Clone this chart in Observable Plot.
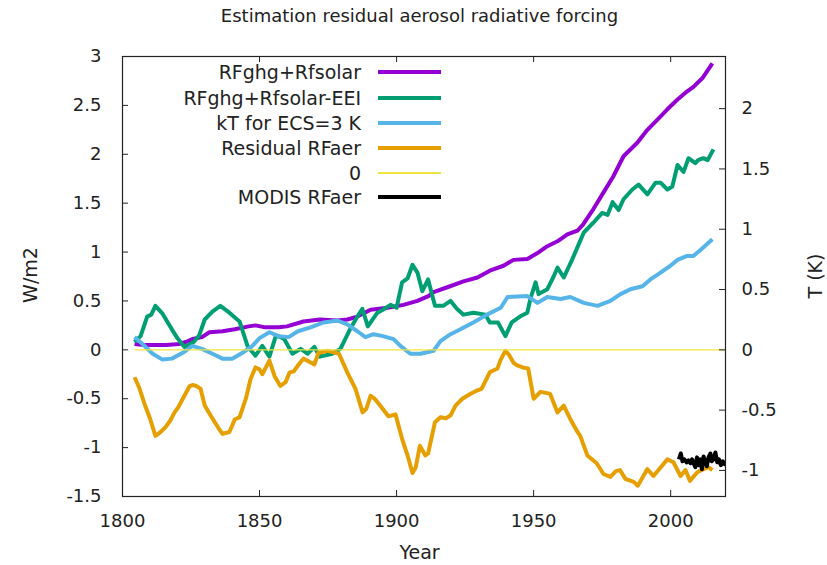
<!DOCTYPE html>
<html><head><meta charset="utf-8">
<script src="https://cdn.jsdelivr.net/npm/d3@7"></script>
<script src="https://cdn.jsdelivr.net/npm/@observablehq/plot@0.6"></script>
<style>
body{margin:0;background:#fff;font-family:"DejaVu Sans",sans-serif;color:#222;}
#wrap{position:relative;width:827px;height:565px;overflow:hidden;}
#wrap svg{position:absolute;left:0;top:0;}
.title{position:absolute;left:0;width:839px;top:5px;text-align:center;font-size:18px;}
.lab{position:absolute;font-size:19px;white-space:nowrap;}
.row{position:absolute;height:26px;}
.row .t{position:absolute;right:0;top:0;font-size:19px;line-height:26px;white-space:nowrap;}
.swatch{position:absolute;}
</style></head><body><div id="wrap"></div>
<script>
// ---------- data ----------
const rfYears  = [1804.4,1808,1812,1816,1820.8,1823,1825.5,1829,1831.7,1836.5,1841,1846,1848.5,1852,1857,1860,1866,1872,1878.4,1882,1885.7,1890.5,1896.7,1902.5,1907.6,1911.6,1913.5,1918.5,1924.4,1929.5,1934,1939,1942.6,1947.7,1951.4,1955,1958.7,1962.3,1966,1968,1971.8,1975.5,1979,1982.8,1987.9,1991.5,1995,1998.8,2002.5,2005.4,2008.3,2011.6,2015.2];
const rfValues = [0.06,0.05,0.05,0.05,0.06,0.08,0.11,0.13,0.18,0.19,0.21,0.24,0.25,0.23,0.23,0.24,0.29,0.31,0.30,0.31,0.34,0.41,0.43,0.46,0.50,0.55,0.59,0.64,0.70,0.74,0.81,0.86,0.92,0.93,0.99,1.06,1.11,1.18,1.22,1.28,1.44,1.61,1.77,1.98,2.12,2.25,2.35,2.46,2.56,2.63,2.69,2.78,2.93];

const eeiYears  = [1804.4,1806.6,1809,1810.5,1812,1814.6,1818,1820,1822.6,1826,1828,1830,1832.8,1835.7,1839,1841,1842.7,1845.6,1848.5,1851,1853.6,1855.8,1857,1859,1862,1865,1867.5,1870,1872,1876.5,1879.5,1883,1885.5,1887.5,1889.5,1893,1895,1897.8,1900,1902,1904,1905.8,1907.6,1909.4,1911.5,1914,1917,1919.7,1922,1924.4,1928,1932.4,1934,1937,1939.7,1942,1945,1947.7,1948.8,1950.7,1951.8,1955,1957.3,1958.7,1961,1964,1966,1968.3,1971.8,1975,1977,1978.8,1981,1982.8,1986,1988.3,1991.5,1994.5,1996.3,1998.8,2000.6,2002.5,2004.7,2006.5,2009,2010,2011.9,2013.5,2015.6];
const eeiValues = [0.08,0.14,0.34,0.36,0.45,0.37,0.21,0.12,0.03,0.08,0.15,0.31,0.39,0.45,0.38,0.33,0.29,0.04,-0.06,0.04,-0.07,0.13,0.14,0.11,-0.04,0.01,-0.04,0.03,-0.07,-0.04,0.01,0.21,0.33,0.42,0.24,0.38,0.41,0.46,0.43,0.69,0.73,0.87,0.79,0.60,0.72,0.45,0.45,0.50,0.42,0.36,0.38,0.36,0.28,0.28,0.14,0.28,0.34,0.38,0.52,0.69,0.57,0.62,0.75,0.84,0.74,0.92,1.05,1.20,1.30,1.40,1.38,1.51,1.43,1.54,1.64,1.69,1.59,1.71,1.71,1.64,1.67,1.89,1.82,1.96,1.91,1.94,1.96,1.94,2.05];

const ktYears  = [1804.4,1807.3,1811,1814.6,1818,1822,1825.5,1829,1832.8,1836.5,1840,1843.8,1847.4,1850,1853.6,1857,1860.6,1864,1868.6,1873.4,1878.4,1882,1885.7,1888.6,1891.6,1895,1898.9,1901.4,1905,1908.7,1913.5,1916,1919.7,1923.3,1928,1933,1938,1940.5,1947.7,1951.4,1955,1959.8,1963.4,1968.3,1973.3,1978,1981.7,1985.3,1989.7,1992.6,1996.3,1999.9,2002.5,2006,2008.3,2012,2015.2];
const ktValues = [0.13,0.06,-0.04,-0.10,-0.09,-0.03,0.04,0.01,-0.04,-0.09,-0.09,-0.03,0.04,0.12,0.18,0.14,0.13,0.19,0.23,0.28,0.30,0.26,0.19,0.13,0.16,0.14,0.11,0.04,-0.04,-0.04,-0.01,0.09,0.16,0.21,0.28,0.36,0.43,0.54,0.55,0.48,0.54,0.52,0.54,0.48,0.45,0.50,0.57,0.62,0.65,0.72,0.79,0.86,0.92,0.96,0.96,1.05,1.13];

const aerYears  = [1804.4,1806,1808,1810,1812,1813.5,1815.7,1817.5,1819,1820.5,1822,1824.5,1825.5,1827,1828.5,1830,1831.5,1833,1835,1836.5,1839,1841,1842.7,1845,1846.7,1848.5,1850,1851,1853.6,1855.5,1857.6,1859.5,1861,1862.5,1864,1866,1868,1870,1871.5,1875,1879,1882,1885,1887.6,1889,1890.5,1892,1894,1897,1899.6,1902,1904,1905.8,1907,1908.5,1910.5,1911.5,1914,1916,1918,1919.7,1921.5,1924,1927,1929,1931,1934,1936.8,1938,1939.7,1941,1942.6,1944,1946,1948,1950,1952.5,1954.5,1956,1958.7,1961,1963.4,1966,1967,1969.6,1973,1975.5,1978,1980,1981.5,1983.5,1986.5,1988,1991.5,1993.7,1997,1998.8,2001,2003.6,2005.4,2007,2009.8,2012,2013.8,2015.2];
const aerValues = [-0.28,-0.38,-0.55,-0.70,-0.88,-0.85,-0.79,-0.72,-0.64,-0.58,-0.50,-0.37,-0.36,-0.37,-0.40,-0.57,-0.64,-0.71,-0.80,-0.86,-0.84,-0.71,-0.69,-0.50,-0.30,-0.18,-0.20,-0.25,-0.11,-0.27,-0.37,-0.33,-0.23,-0.22,-0.16,-0.09,-0.12,-0.15,-0.03,-0.01,-0.04,-0.23,-0.40,-0.64,-0.60,-0.47,-0.50,-0.57,-0.68,-0.66,-0.91,-1.08,-1.26,-1.20,-0.98,-1.08,-1.06,-0.74,-0.69,-0.70,-0.67,-0.57,-0.50,-0.45,-0.42,-0.40,-0.23,-0.19,-0.10,-0.01,-0.05,-0.13,-0.16,-0.18,-0.19,-0.50,-0.43,-0.44,-0.45,-0.64,-0.57,-0.71,-0.84,-0.88,-1.08,-1.16,-1.27,-1.30,-1.24,-1.23,-1.32,-1.35,-1.39,-1.22,-1.29,-1.18,-1.12,-1.15,-1.29,-1.23,-1.34,-1.25,-1.22,-1.20,-1.23];

const zeroYears  = [1804.4, 2020];
const zeroValues = [0, 0];

const modisYears  = [2003,2003.7,2004.3,2005,2005.8,2006.5,2007.2,2007.8,2008.5,2009,2009.6,2010.2,2010.8,2011.4,2012,2012.6,2013.2,2013.8,2014.5,2015,2015.6,2016.3,2017,2017.6,2018.3,2019,2019.7,2020.4];
const modisValues = [-1.12,-1.06,-1.14,-1.12,-1.15,-1.13,-1.16,-1.12,-1.17,-1.20,-1.10,-1.18,-1.12,-1.22,-1.09,-1.15,-1.19,-1.10,-1.06,-1.14,-1.12,-1.05,-1.15,-1.12,-1.18,-1.14,-1.17,-1.16];

const seriesNames  = ["RFghg+Rfsolar","RFghg+Rfsolar-EEI","kT for ECS=3 K","Residual RFaer","0","MODIS RFaer"];
const seriesColors = ["#9400d3","#009e73","#56b4e9","#e69f00","#f0e442","#000000"];

const xTicks = [1800,1850,1900,1950,2000];
const yTicks = [-1.5,-1,-0.5,0,0.5,1,1.5,2,2.5,3];
const tTicks = [-1,-0.5,0,0.5,1,1.5,2];
const kFactor = 3.7/3; // W/m2 per K

// ---------- build ----------
const allSeries = [
  [rfYears, rfValues], [eeiYears, eeiValues], [ktYears, ktValues],
  [aerYears, aerValues], [zeroYears, zeroValues], [modisYears, modisValues]
].map(([ys, vs], i) => ys.map((y, j) => ({year: y, value: vs[j], name: seriesNames[i]})));

const W = 827, H = 565;
const mL = 122, mR = 102, mT = 56, mB = 69;
const fw = W - mL - mR, fh = H - mT - mB, tick = 6;

const lineMarks = allSeries.map((d, i) => Plot.line(d, {
  x: "year", y: "value", stroke: seriesColors[i],
  strokeWidth: i === 4 ? 1.3 : 4, strokeLinejoin: "round", strokeLinecap: "butt", clip: true
}));

const chart = Plot.plot({
  width: W, height: H,
  marginLeft: mL, marginRight: mR, marginTop: mT, marginBottom: mB,
  style: {fontFamily: "DejaVu Sans, sans-serif", fontSize: "18px", color: "#222", background: "transparent"},
  x: {domain: [1800, 2020]},
  y: {domain: [-1.5, 3]},
  marks: [
    ...lineMarks,
    Plot.ruleX(xTicks, {stroke: "#222", insetTop: fh - tick}),
    Plot.ruleX(xTicks, {stroke: "#222", insetBottom: fh - tick}),
    Plot.ruleY(yTicks, {stroke: "#222", insetRight: fw - tick}),
    Plot.ruleY(tTicks.map(t => t * kFactor), {stroke: "#222", insetLeft: fw - tick}),
    Plot.frame({stroke: "#222", strokeWidth: 1.2}),
    Plot.axisX(xTicks, {tickSize: 0, tickPadding: 18, tickFormat: d => String(d), label: null}),
    Plot.axisY(yTicks, {anchor: "left", tickSize: 0, tickPadding: 21, tickFormat: d => String(d), label: null}),
    Plot.axisY(tTicks.map(t => t * kFactor), {anchor: "right", tickSize: 0, tickPadding: 16,
      tickFormat: d => String(Math.round(d / kFactor * 10) / 10), label: null})
  ]
});

const wrap = document.getElementById("wrap");
wrap.appendChild(chart);

function addLab(text, css) {
  const d = document.createElement("div");
  d.className = "lab"; d.textContent = text;
  Object.assign(d.style, css);
  wrap.appendChild(d);
  return d;
}
const t = document.createElement("div");
t.className = "title"; t.textContent = "Estimation residual aerosol radiative forcing";
wrap.appendChild(t);
addLab("Year", {left: "0px", width: "839px", textAlign: "center", top: "541px"});
addLab("W/m2", {left: "30px", top: "275px", transform: "translate(-50%,-50%) rotate(-90deg)"});
addLab("T (K)", {left: "815px", top: "276px", transform: "translate(-50%,-50%) rotate(-90deg)"});

// legend
const rowY = [72, 98, 123, 148, 173, 197];
seriesNames.forEach((name, i) => {
  const r = document.createElement("div");
  r.className = "row";
  r.style.left = "140px"; r.style.width = "221px"; r.style.top = (rowY[i] - 13) + "px";
  const tx = document.createElement("span"); tx.className = "t"; tx.textContent = name;
  r.appendChild(tx);
  wrap.appendChild(r);
  const s = document.createElement("div");
  s.className = "swatch";
  const th = i === 4 ? 1.3 : 4;
  Object.assign(s.style, {left: "378px", width: "63px", top: (rowY[i] - th / 2) + "px", height: th + "px", background: seriesColors[i]});
  wrap.appendChild(s);
});
</script>
</body></html>
